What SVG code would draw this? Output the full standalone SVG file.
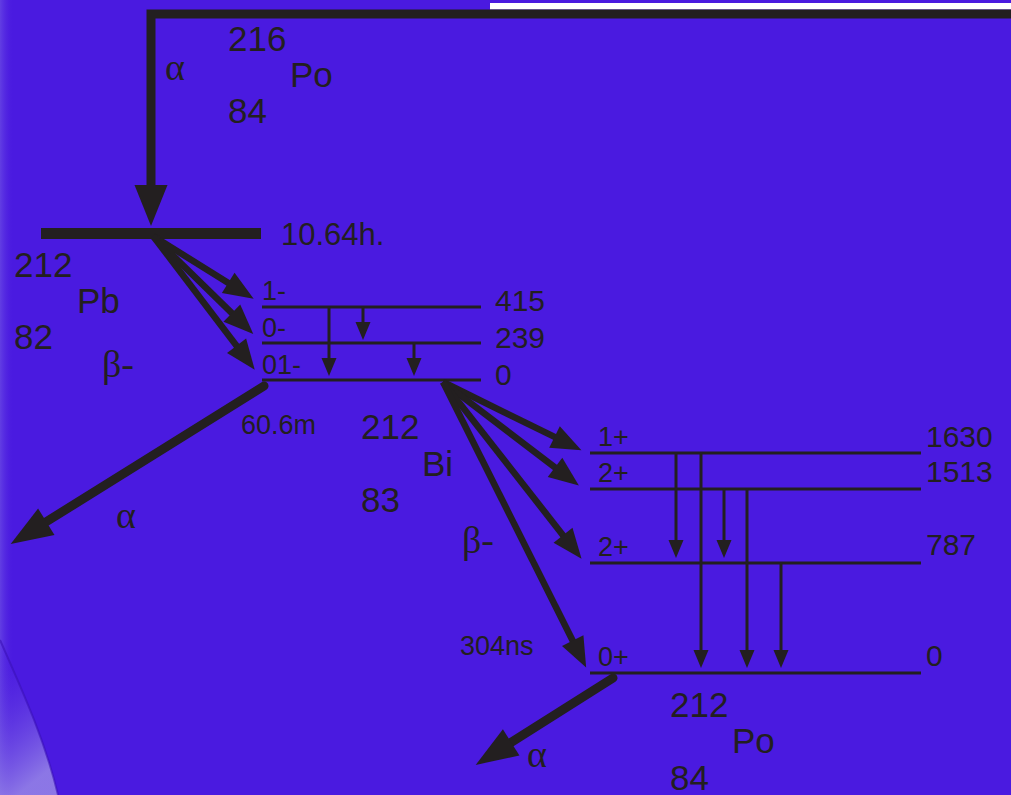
<svg xmlns="http://www.w3.org/2000/svg" width="1011" height="795" viewBox="0 0 1011 795">
<style>
.t{font-family:"Liberation Sans",Arial,sans-serif;fill:#231f20}
.big{font-size:35px}
.mid{font-size:30px}
.lev{font-size:27px}
.g{font-family:"Liberation Serif","Times New Roman",serif;fill:#231f20;font-size:38px}
.lvl{stroke:#231f20;stroke-width:3;fill:none}
.gam{stroke:#231f20;stroke-width:3;fill:none;marker-end:url(#mg)}
.bet{stroke:#231f20;stroke-width:6.5;fill:none;marker-end:url(#mb)}
.alp{stroke:#231f20;stroke-width:9;fill:none;stroke-linecap:round;marker-end:url(#ma)}
</style>
<defs>
<marker id="mg" markerUnits="userSpaceOnUse" markerWidth="20" markerHeight="16" refX="1" refY="0" orient="auto" overflow="visible"><path d="M0,-7.5 L18,0 L0,7.5 Z" fill="#231f20"/></marker>
<marker id="mb" markerUnits="userSpaceOnUse" markerWidth="32" markerHeight="26" refX="4" refY="0" orient="auto" overflow="visible"><path d="M0,-12 L30,0 L0,12 Z" fill="#231f20"/></marker>
<marker id="ma" markerUnits="userSpaceOnUse" markerWidth="44" markerHeight="34" refX="2" refY="0" orient="auto" overflow="visible"><path d="M0,-15.5 L42,0 L0,15.5 Z" fill="#231f20"/></marker>
<marker id="mt" markerUnits="userSpaceOnUse" markerWidth="44" markerHeight="34" refX="2" refY="0" orient="auto" overflow="visible"><path d="M0,-16.5 L41,0 L0,16.5 Z" fill="#231f20"/></marker>
<linearGradient id="lite" x1="0" y1="0" x2="0.3" y2="1">
<stop offset="0" stop-color="#4a1ae0" stop-opacity="0"/>
<stop offset="1" stop-color="#a89ee8" stop-opacity="0.7"/>
</linearGradient>
<linearGradient id="edge" x1="0" y1="0" x2="1" y2="0">
<stop offset="0" stop-color="#7a62e6" stop-opacity="0.5"/>
<stop offset="1" stop-color="#4a1ae0" stop-opacity="0"/>
</linearGradient>
</defs>
<rect width="1011" height="795" fill="#4a1ae0"/>
<rect x="0" y="0" width="14" height="795" fill="url(#edge)"/>
<path d="M0,640 C22,690 45,740 58,795 L0,795 Z" fill="url(#lite)"/>
<path d="M0,640 C22,690 45,740 58,795" stroke="#3a10b8" stroke-width="2" fill="none" opacity="0.6"/>
<rect x="490" y="3" width="521" height="6.5" fill="#ffffff"/>

<g id="Po216">
<text class="t big" x="228" y="51">216</text>
<text class="t big" x="290" y="87">Po</text>
<text class="t big" x="228" y="123">84</text>
</g>

<g id="Pb212">
<line x1="41" y1="233.5" x2="261" y2="233.5" stroke="#231f20" stroke-width="11"/>
<text class="t mid" x="281" y="245" style="font-size:31px">10.64h.</text>
<text class="t big" x="14" y="277">212</text>
<text class="t big" x="77" y="313">Pb</text>
<text class="t big" x="14" y="349">82</text>
</g>

<g id="Bi212">
<line class="lvl" x1="262" y1="307" x2="481" y2="307"/>
<line class="lvl" x1="262" y1="343" x2="481" y2="343"/>
<line class="lvl" x1="262" y1="380" x2="481" y2="380"/>
<text class="t lev" x="262" y="300">1-</text>
<text class="t lev" x="262" y="337">0-</text>
<text class="t lev" x="262" y="374">01-</text>
<text class="t mid" x="495" y="311">415</text>
<text class="t mid" x="495" y="348">239</text>
<text class="t mid" x="495" y="385">0</text>
<text class="t lev" x="241" y="434">60.6m</text>
<text class="t big" x="361" y="439">212</text>
<text class="t big" x="422" y="476">Bi</text>
<text class="t big" x="361" y="512">83</text>
</g>

<g id="Po212">
<line class="lvl" x1="590" y1="453" x2="921" y2="453"/>
<line class="lvl" x1="590" y1="489" x2="921" y2="489"/>
<line class="lvl" x1="590" y1="563" x2="921" y2="563"/>
<line class="lvl" x1="590" y1="673" x2="921" y2="673"/>
<text class="t lev" x="598" y="446">1+</text>
<text class="t lev" x="598" y="482">2+</text>
<text class="t lev" x="598" y="556">2+</text>
<text class="t lev" x="598" y="666">0+</text>
<text class="t mid" x="926" y="447">1630</text>
<text class="t mid" x="926" y="482">1513</text>
<text class="t mid" x="926" y="555">787</text>
<text class="t mid" x="926" y="666">0</text>
<text class="t lev" x="460" y="655">304ns</text>
<text class="t big" x="670" y="717">212</text>
<text class="t big" x="732" y="753">Po</text>
<text class="t big" x="670" y="790">84</text>
</g>

<g id="connectors">
<path d="M1011,14 L151,14 L151,187" stroke="#231f20" stroke-width="9" fill="none" stroke-linejoin="miter" marker-end="url(#mt)"/>
<text class="g" x="165" y="80">α</text>

<line class="bet" x1="153" y1="236" x2="231.6" y2="285"/>
<line class="bet" x1="153" y1="236" x2="234.7" y2="315.9"/>
<line class="bet" x1="153" y1="236" x2="239" y2="349"/>
<text class="g" x="102" y="377">β-</text>

<line class="gam" x1="329" y1="307" x2="329" y2="359"/>
<line class="gam" x1="363" y1="307" x2="363" y2="323"/>
<line class="gam" x1="414" y1="343" x2="414" y2="359"/>

<line class="alp" x1="264" y1="386" x2="44.6" y2="522.8"/>
<text class="g" x="116" y="528">α</text>

<line class="bet" x1="443" y1="382" x2="558.1" y2="438.7"/>
<line class="bet" x1="443" y1="382" x2="558.2" y2="469.8"/>
<line class="bet" x1="443" y1="382" x2="565.5" y2="538.4"/>
<line class="bet" x1="443" y1="382" x2="574.5" y2="644.2"/>
<text class="g" x="462" y="553">β-</text>

<line class="gam" x1="676" y1="453" x2="676" y2="541"/>
<line class="gam" x1="701" y1="453" x2="701" y2="651"/>
<line class="gam" x1="724" y1="489" x2="724" y2="541"/>
<line class="gam" x1="747" y1="489" x2="747" y2="651"/>
<line class="gam" x1="781" y1="563" x2="781" y2="651"/>

<line class="alp" x1="613" y1="678" x2="509.5" y2="743.5"/>
<text class="g" x="527" y="767">α</text>
</g>
</svg>
